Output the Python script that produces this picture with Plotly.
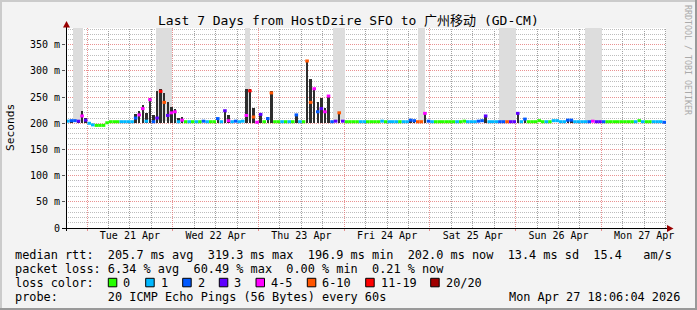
import math
import plotly.graph_objects as go
from datetime import datetime, timedelta

# ---------------- data ----------------
START = datetime(2026, 4, 20, 18, 6)
END = datetime(2026, 4, 27, 18, 6)

# hourly median RTT (ms), 168 hours from START
median_ms = [
    204, 205, 205, 204, 214, 206, 200, 197, 196, 196, 196, 201,
    203, 203, 203, 203, 203, 203, 203, 210, 216, 228, 204, 245,
    203, 210, 261, 240, 215, 220, 222, 203, 206, 203, 203, 203,
    203, 203, 204, 203, 203, 203, 209, 203, 224, 205, 203, 204,
    203, 204, 215, 262, 212, 202, 217, 203, 209, 258, 203, 203,
    203, 203, 203, 203, 216, 203, 203, 319, 240, 266, 222, 228,
    222, 252, 203, 204, 220, 204, 203, 203, 203, 203, 203, 203,
    203, 203, 203, 203, 204, 203, 203, 203, 203, 203, 203, 203,
    206, 205, 203, 203, 219, 204, 203, 203, 203, 203, 203, 203,
    203, 203, 203, 204, 203, 203, 203, 204, 205, 214, 203, 203,
    203, 203, 203, 203, 203, 203, 219, 203, 208, 203, 203, 203,
    205, 203, 203, 203, 205, 205, 203, 203, 206, 206, 203, 203,
    203, 203, 203, 204, 203, 203, 203, 203, 203, 203, 203, 203,
    203, 203, 203, 203, 205, 203, 203, 203, 203, 203, 203, 202,
]

# hourly lost pings (of 20)
loss_pings = [
    1, 2, 2, 3, 4, 3, 1, 1, 0, 0, 0, 0,
    0, 0, 0, 1, 1, 1, 1, 2, 4, 4, 1, 4,
    2, 3, 12, 7, 3, 4, 4, 1, 4, 0, 1, 0,
    1, 0, 2, 1, 0, 0, 2, 1, 3, 4, 1, 2,
    1, 1, 4, 12, 7, 4, 3, 0, 2, 7, 0, 0,
    1, 0, 1, 0, 2, 1, 0, 7, 7, 4, 2, 3,
    4, 4, 2, 3, 7, 3, 0, 0, 0, 0, 1, 1,
    0, 0, 0, 0, 1, 0, 1, 1, 1, 0, 1, 1,
    2, 2, 7, 7, 4, 2, 1, 0, 0, 0, 0, 0,
    0, 1, 0, 0, 1, 1, 1, 2, 2, 3, 1, 1,
    1, 2, 2, 7, 3, 3, 3, 1, 2, 0, 0, 0,
    0, 0, 1, 0, 1, 1, 1, 1, 2, 2, 1, 1,
    1, 1, 2, 4, 3, 3, 2, 0, 0, 0, 0, 0,
    0, 0, 0, 1, 0, 1, 0, 0, 1, 1, 1, 2,
]

# hourly top of the dark smoke (ms)
smoke_top_ms = [
    206, 207, 206, 207, 224, 210, 203, 199, 197, 197, 197, 203,
    204, 204, 204, 204, 204, 204, 205, 218, 224, 234, 220, 248,
    215, 262, 266, 258, 240, 232, 228, 210, 212, 204, 204, 204,
    204, 204, 205, 204, 204, 204, 210, 204, 226, 215, 204, 205,
    204, 206, 266, 266, 230, 204, 220, 204, 212, 261, 204, 204,
    204, 204, 204, 204, 218, 204, 204, 320, 285, 268, 241, 248,
    230, 254, 204, 205, 222, 205, 204, 204, 204, 204, 204, 204,
    204, 204, 204, 204, 206, 204, 204, 204, 204, 204, 204, 204,
    208, 207, 204, 204, 222, 205, 204, 204, 204, 204, 204, 204,
    204, 204, 204, 206, 204, 204, 204, 205, 206, 216, 204, 204,
    204, 204, 204, 204, 204, 204, 221, 204, 210, 204, 204, 204,
    206, 204, 204, 204, 206, 206, 204, 204, 207, 207, 204, 204,
    204, 204, 204, 205, 204, 204, 204, 204, 204, 204, 204, 204,
    204, 204, 204, 204, 206, 204, 204, 204, 204, 204, 204, 203,
]
smoke_floor_ms = 200

# periods where outlier pings exceed the chart (light smoke)
band_start = ["2026-04-20 20:04", "2026-04-21 19:18", "2026-04-22 20:12", "2026-04-23 20:54",
              "2026-04-24 20:42", "2026-04-25 19:18", "2026-04-26 19:24"]
band_end = ["2026-04-20 22:52", "2026-04-21 23:48", "2026-04-22 21:36", "2026-04-24 00:12",
            "2026-04-24 22:36", "2026-04-26 00:06", "2026-04-27 00:12"]
band_floor_ms = 204
band_top_ms = 400

loss_bins = ["0", "1", "2", "3", "4-5", "6-10", "11-19", "20/20"]
loss_bin_max = [0, 1, 2, 3, 5, 10, 19, 20]
loss_colors = ["#26FF00", "#00B8FF", "#0059FF", "#5E00FF", "#FF00FF", "#FF5500", "#FF0000", "#A00000"]

day_ticks = ["2026-04-21 12:00", "2026-04-22 12:00", "2026-04-23 12:00", "2026-04-24 12:00",
             "2026-04-25 12:00", "2026-04-26 12:00", "2026-04-27 12:00"]
day_labels = ["Tue 21 Apr", "Wed 22 Apr", "Thu 23 Apr", "Fri 24 Apr", "Sat 25 Apr", "Sun 26 Apr", "Mon 27 Apr"]
y_ticks = [0, 50, 100, 150, 200, 250, 300, 350]
y_labels = ["0", "50 m", "100 m", "150 m", "200 m", "250 m", "300 m", "350 m"]

rtt_stats = [205.7, 319.3, 196.9, 202.0]   # avg max min now
rtt_sd = 13.4
rtt_ams = 15.4
loss_stats = [6.34, 60.49, 0.00, 0.21]     # avg max min now

TITLE = "Last 7 Days from HostDzire SFO to 广州移动 (GD-CM)"
PROBE = "20 ICMP Echo Pings (56 Bytes) every 60s"
STAMP = "Mon Apr 27 18:06:04 2026"

# ---------------- helpers ----------------
MONO = "DejaVu Sans Mono, Noto Sans CJK SC, monospace"
L, R, T, B = 66, 666, 28, 228
W, H = 697, 310
Y_MAX = 382
RANGE_H = (END - START).total_seconds() / 3600


def px2x(px):
    return (px - L) / (R - L)


def py2y(py):
    return (B - py) / (B - T)


def nb(s):
    return s.replace(" ", "\u00a0")


def bin_of(lost):
    for k, m in enumerate(loss_bin_max):
        if lost <= m:
            return k
    return len(loss_bin_max) - 1


hours = [START + timedelta(hours=i) for i in range(len(median_ms) + 1)]

fig = go.Figure()

# light smoke bands
bs = [datetime.fromisoformat(s) for s in band_start]
be = [datetime.fromisoformat(s) for s in band_end]
fig.add_trace(go.Bar(
    x=[a + (b - a) / 2 for a, b in zip(bs, be)],
    y=[band_top_ms - band_floor_ms] * len(bs),
    base=[band_floor_ms] * len(bs),
    width=[(b - a).total_seconds() * 1000 for a, b in zip(bs, be)],
    marker=dict(color="#DDDDDD", line=dict(width=0)),
    hoverinfo="skip",
))

# dark smoke
sx, sy, sb = [], [], []
for i, (m, top) in enumerate(zip(median_ms, smoke_top_ms)):
    top = max(top, m)
    if top >= 207:
        sx.append(hours[i] + timedelta(minutes=30))
        sy.append(top - smoke_floor_ms)
        sb.append(smoke_floor_ms)
fig.add_trace(go.Bar(
    x=sx, y=sy, base=sb, width=0.7 * 3600 * 1000,
    marker=dict(color="#2E2E2E", line=dict(width=0)),
    hoverinfo="skip",
))

# median segments, coloured by loss
for k, col in enumerate(loss_colors):
    xs, ys = [], []
    for i, (m, lost) in enumerate(zip(median_ms, loss_pings)):
        if bin_of(lost) == k:
            xs += [hours[i], hours[i + 1], None]
            ys += [m, m, None]
    if xs:
        fig.add_trace(go.Scatter(x=xs, y=ys, mode="lines",
                                 line=dict(color=col, width=3), hoverinfo="skip"))

# carrier traces for the overlay axes
fig.add_trace(go.Scatter(x=[START, END], y=[None, None], xaxis="x2", mode="lines", hoverinfo="skip"))
fig.add_trace(go.Scatter(x=[START, END], y=[None, None], xaxis="x3", yaxis="y2", mode="lines",
                         hoverinfo="skip"))

RED_GRID = "rgba(225,110,110,0.75)"
GREY_GRID = "#BDBDBD"
GREY_VGRID = "#A0A0A0"
DASH = "1px,1px"

fig.update_layout(
    width=W, height=H,
    margin=dict(l=L, r=W - R, t=T, b=H - B),
    paper_bgcolor="#F3F3F3", plot_bgcolor="#FFFFFF",
    showlegend=False, barmode="overlay", bargap=0,
    xaxis=dict(type="date", range=[START, END], showticklabels=False, showgrid=False, ticks="",
               showline=False, zeroline=False, fixedrange=True),
    # day labels at noon
    xaxis2=dict(type="date", overlaying="x", anchor="y", side="bottom", range=[START, END],
                tickmode="array", tickvals=day_ticks, ticktext=day_labels, showgrid=False,
                ticks="", showline=False, zeroline=False,
                tickfont=dict(family=MONO, size=10, color="#000000")),
    # major x grid at midnight
    xaxis3=dict(type="date", overlaying="x", anchor="y", side="bottom", range=[START, END],
                tickmode="linear", tick0="2026-04-21", dtick=86400000, showticklabels=False,
                showgrid=True, gridcolor=RED_GRID, griddash=DASH, gridwidth=1,
                ticks="outside", ticklen=2, tickcolor=RED_GRID, showline=False, zeroline=False),
    yaxis=dict(range=[0, Y_MAX], showticklabels=False, showgrid=False, ticks="",
               showline=False, zeroline=False, fixedrange=True),
    # major y grid + labels
    yaxis2=dict(range=[0, Y_MAX], overlaying="y", anchor="x", side="left",
                tickmode="array", tickvals=y_ticks, ticktext=y_labels,
                showgrid=True, gridcolor=RED_GRID, griddash=DASH, gridwidth=1,
                ticks="outside", ticklen=3, tickcolor="#555555",
                tickfont=dict(family=MONO, size=10, color="#000000"),
                showline=False, zeroline=False),
)

shapes = []
# minor grid (every 6 h and every 10 ms), pixel-snapped, beneath everything
t = datetime(START.year, START.month, START.day)
while t < END:
    if t > START and t.hour != 0:
        xp = L + (t - START).total_seconds() / 3600 / RANGE_H * (R - L)
        xp = math.floor(xp) + 0.5
        shapes.append(dict(type="line", xref="paper", yref="paper", x0=px2x(xp), x1=px2x(xp),
                           y0=0, y1=1, line=dict(color=GREY_VGRID, width=1, dash=DASH),
                           layer="below"))
    t += timedelta(hours=6)
for v in range(10, Y_MAX, 10):
    if v % 50 == 0:
        continue
    yp = B - v / Y_MAX * (B - T)
    yp = math.floor(yp) + 0.5
    shapes.append(dict(type="line", xref="paper", yref="paper", x0=0, x1=1, y0=py2y(yp), y1=py2y(yp),
                       line=dict(color=GREY_GRID, width=1, dash=DASH), layer="below"))

# frame
shapes.append(dict(type="rect", xref="paper", yref="paper", x0=px2x(0), x1=px2x(W), y0=py2y(2), y1=py2y(0),
                   fillcolor="#CBCBCB", line=dict(width=0), layer="above"))
shapes.append(dict(type="rect", xref="paper", yref="paper", x0=px2x(0), x1=px2x(2), y0=py2y(H), y1=py2y(0),
                   fillcolor="#CBCBCB", line=dict(width=0), layer="above"))
shapes.append(dict(type="rect", xref="paper", yref="paper", x0=px2x(0), x1=px2x(W), y0=py2y(H), y1=py2y(H - 2),
                   fillcolor="#999999", line=dict(width=0), layer="above"))
shapes.append(dict(type="rect", xref="paper", yref="paper", x0=px2x(W - 2), x1=px2x(W), y0=py2y(H), y1=py2y(0),
                   fillcolor="#999999", line=dict(width=0), layer="above"))
# axes with arrows
shapes.append(dict(type="line", xref="paper", yref="paper", x0=px2x(62), x1=px2x(668), y0=py2y(228.5), y1=py2y(228.5),
                   line=dict(color="#000000", width=1), layer="above"))
shapes.append(dict(type="line", xref="paper", yref="paper", x0=px2x(66.5), x1=px2x(66.5), y0=py2y(231), y1=py2y(25),
                   line=dict(color="#000000", width=1), layer="above"))
shapes.append(dict(type="path", xref="paper", yref="paper",
                   path=f"M {px2x(667)},{py2y(225)} L {px2x(673.5)},{py2y(228.5)} L {px2x(667)},{py2y(232)} Z",
                   fillcolor="#990000", line=dict(width=0), layer="above"))
shapes.append(dict(type="path", xref="paper", yref="paper",
                   path=f"M {px2x(63)},{py2y(27.5)} L {px2x(66.5)},{py2y(21)} L {px2x(70)},{py2y(27.5)} Z",
                   fillcolor="#990000", line=dict(width=0), layer="above"))

# legend squares
sq_left = [108.3, 145.7, 182.7, 219.3, 256.0, 307.3, 365.7, 430.7]
for xl, col in zip(sq_left, loss_colors):
    shapes.append(dict(type="rect", xref="paper", yref="paper", x0=px2x(xl), x1=px2x(xl + 8.5),
                       y0=py2y(286.8), y1=py2y(278.3), fillcolor=col,
                       line=dict(color="#000000", width=1), layer="above"))

anns = []


def txt(s, px, py, size=11.86, color="#000000", xanchor="left", angle=0):
    anns.append(dict(text=nb(s), xref="paper", yref="paper", x=px2x(px), y=py2y(py),
                     xanchor=xanchor, yanchor="middle", showarrow=False, textangle=angle,
                     borderpad=0, font=dict(family=MONO, size=size, color=color)))


txt(TITLE, 348.5, 20.5, size=13, xanchor="center")
txt("RRDTOOL / TOBI OETIKER", 688, 60, size=8.3, color="#AAAAAA", xanchor="center", angle=90)
txt("Seconds", 10, 128, size=11.2, xanchor="center", angle=-90)

row1 = ("median rtt:  " + "  ".join(f"{v:.1f} ms {n}" for v, n in zip(rtt_stats, ["avg", "max", "min", "now"]))
        + f"  {rtt_sd:.1f} ms sd  {rtt_ams:.1f}   am/s")
row2 = "packet loss: " + "  ".join(f"{v:.2f} % {n}" for v, n in zip(loss_stats, ["avg", "max", "min", "now"]))
txt(row1, 14.4, 254.5)
txt(row2, 14.4, 268.5)
txt("loss color:", 14.4, 282.5)
for xl, lab in zip(sq_left, loss_bins):
    txt(lab, xl + 14, 282.5)
txt("probe:       " + PROBE, 14.4, 296.5)
txt(STAMP, 681, 296.5, xanchor="right")

fig.update_layout(shapes=shapes, annotations=anns)
fig.write_html("out.html")
